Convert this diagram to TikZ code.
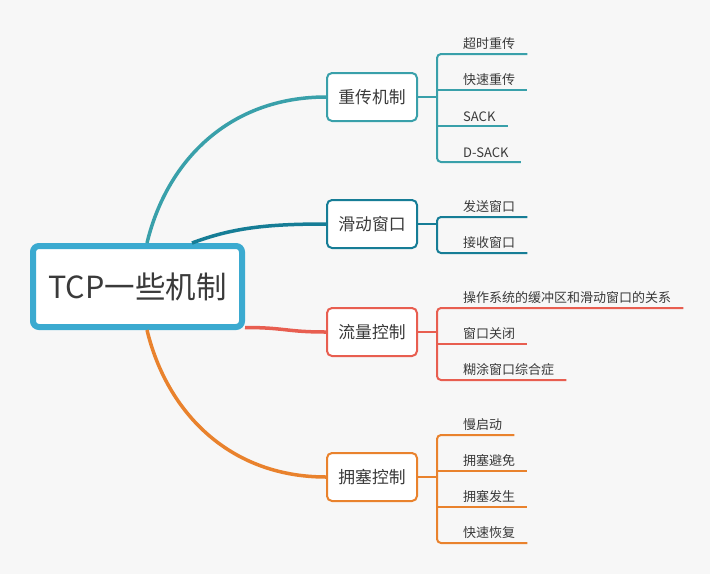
\documentclass[tikz,border=0pt]{standalone}
\usepackage{fontspec}
\setmainfont{Noto Sans CJK SC}
\usetikzlibrary{calc}

\definecolor{bgc}{HTML}{F7F7F7}
\definecolor{txt}{HTML}{3A3A3A}
\definecolor{rootc}{HTML}{3BAAD0}
\definecolor{tealc}{HTML}{39A0AA}
\definecolor{deepc}{HTML}{167D96}
\definecolor{redc}{HTML}{E85E50}
\definecolor{orangec}{HTML}{E9822D}

\begin{document}
\begin{tikzpicture}[x=1pt,y=-1pt,
    root/.style={draw=rootc,line width=6pt,rounded corners=6pt,fill=white,
      minimum width=209pt,minimum height=81pt,text=txt,
      font=\fontsize{30.5}{34}\selectfont},
    branch/.style={draw=#1,line width=2pt,rounded corners=5pt,fill=white,
      minimum width=90pt,minimum height=48pt,text=txt,
      font=\fontsize{16.8}{20}\selectfont},
    leaf/.style={anchor=south west,inner xsep=0pt,inner ysep=4pt,text=txt,
      font=\fontsize{13}{15}\selectfont},
    limb/.style={draw=#1,line width=3.5pt},
    twig/.style={draw=#1,line width=2pt,rounded corners=4pt}]
  \fill[bgc] (0,0) rectangle (710,574);

  % centre and the four branches
  \node[root] (tcp) at (137.5,286.5) {TCP一些机制};
  \node[branch=tealc] (retx) at (372,97) {重传机制};
  \node[branch=deepc] (slide) at (372,224) {滑动窗口};
  \node[branch=redc] (flow) at (372,332) {流量控制};
  \node[branch=orangec] (cong) at (372,477) {拥塞控制};

  \draw[limb=tealc] ([xshift=9.5]tcp.north) .. controls +(20,-83) and +(-96,0) .. (retx.west);
  \draw[limb=deepc] ([xshift=54.5]tcp.north) .. controls +(40,-15) and +(-60,0) .. (slide.west);
  \draw[limb=redc] ([yshift=-41]tcp.east) .. controls +(40,0) and +(-40,0) .. (flow.west);
  \draw[limb=orangec] ([xshift=9.5]tcp.south) .. controls +(20,83) and +(-96,0) .. (cong.west);

  % leaves
  \foreach \t [count=\i] in {超时重传,快速重传,SACK,D-SACK}
    \node[leaf] (retx\i) at (463,18+36*\i) {\t};
  \foreach \t [count=\i] in {发送窗口,接收窗口}
    \node[leaf] (slide\i) at (463,181+36*\i) {\t};
  \foreach \t [count=\i] in {操作系统的缓冲区和滑动窗口的关系,窗口关闭,糊涂窗口综合症}
    \node[leaf] (flow\i) at (463,272+36*\i) {\t};
  \foreach \t [count=\i] in {慢启动,拥塞避免,拥塞发生,快速恢复}
    \node[leaf] (cong\i) at (463,399+36*\i) {\t};

  \coordinate (retxj) at ([xshift=19]retx.east);
  \coordinate (slidej) at ([xshift=19]slide.east);
  \coordinate (flowj) at ([xshift=19]flow.east);
  \coordinate (congj) at ([xshift=19]cong.east);

  % brackets
  \draw[twig=tealc] (retx) -- (retxj);
  \draw[twig=tealc] ([xshift=12]retx1.south east) -- (retx1.south -| retxj)
    -- (retx4.south -| retxj) -- ([xshift=12]retx4.south east);
  \foreach \i in {2,3}
    \draw[twig=tealc] (retx\i.south -| retxj) -- ([xshift=12]retx\i.south east);

  \draw[twig=deepc] (slide) -- (slidej);
  \draw[twig=deepc] ([xshift=12]slide1.south east) -- (slide1.south -| slidej)
    -- (slide2.south -| slidej) -- ([xshift=12]slide2.south east);

  \draw[twig=redc] (flow) -- (flowj);
  \draw[twig=redc] ([xshift=12]flow1.south east) -- (flow1.south -| flowj)
    -- (flow3.south -| flowj) -- ([xshift=12]flow3.south east);
  \draw[twig=redc] (flow2.south -| flowj) -- ([xshift=12]flow2.south east);

  \draw[twig=orangec] (cong) -- (congj);
  \draw[twig=orangec] ([xshift=12]cong1.south east) -- (cong1.south -| congj)
    -- (cong4.south -| congj) -- ([xshift=12]cong4.south east);
  \foreach \i in {2,3}
    \draw[twig=orangec] (cong\i.south -| congj) -- ([xshift=12]cong\i.south east);
\end{tikzpicture}
\end{document}
